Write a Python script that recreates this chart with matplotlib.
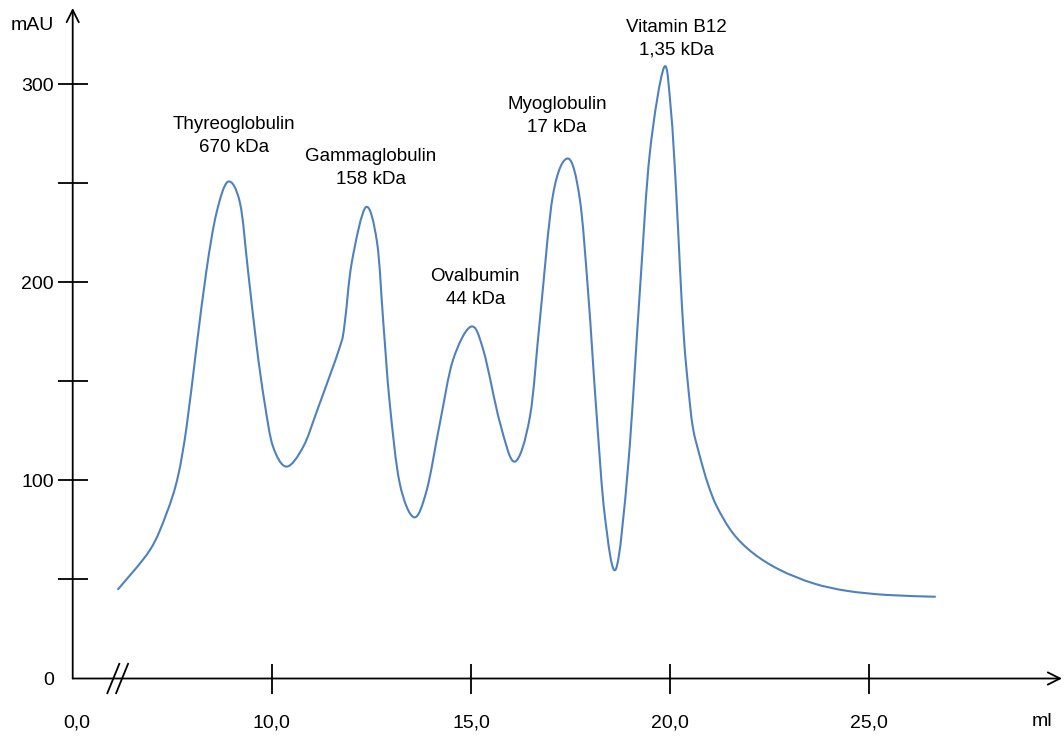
import numpy as np
import matplotlib.pyplot as plt
from matplotlib.path import Path
from matplotlib.patches import PathPatch

plt.rcParams['font.family'] = ['Liberation Sans', 'DejaVu Sans']

# Chromatogramm der Kalibrierproteine: Elutionsvolumen (ml) gegen Absorption (mAU)
volume_ml = [6.14, 6.94, 7.36, 7.64, 7.86, 8.11, 8.36, 8.61, 8.90, 9.20,
             9.40, 9.62, 9.82, 10.03, 10.37, 10.79, 11.16, 11.71, 11.83, 12.01,
             12.36, 12.64, 12.80, 12.96, 13.21, 13.57, 13.89, 14.22, 14.55, 15.00,
             15.31, 15.73, 16.10, 16.48, 16.73, 17.06, 17.44, 17.73, 17.94, 18.15,
             18.36, 18.64, 18.95, 19.24, 19.49, 19.85, 20.02, 20.15, 20.25, 20.35,
             20.45, 20.57, 20.75, 20.95, 21.18, 21.58, 22.09, 22.76, 23.59, 24.43,
             25.44, 26.65]
absorbance_mau = [45.1, 64.9, 83.6, 101.8, 127.2, 167.6, 206.3, 235.1, 250.9, 240.2,
                  206.3, 167.6, 139.1, 117.1, 107.0, 117.1, 136.6, 167.6, 179.5, 210.4,
                  238.0, 220.5, 179.5, 139.1, 98.7, 81.4, 95.2, 129.0, 160.9, 177.7,
                  165.9, 129.0, 109.5, 132.2, 181.1, 244.3, 262.6, 242.5, 195.5, 134.6,
                  82.3, 55.3, 108.4, 195.5, 265.2, 308.7, 287.1, 246.7, 206.3, 171.0,
                  148.2, 127.0, 112.0, 98.2, 86.6, 73.3, 63.2, 54.8, 48.1, 44.3,
                  42.2, 41.3]

peak_names = ["Thyreoglobulin", "Gammaglobulin", "Ovalbumin", "Myoglobulin", "Vitamin B12"]
peak_masses = ["670 kDa", "158 kDa", "44 kDa", "17 kDa", "1,35 kDa"]
label_pos = [(9.06, 274), (12.49, 258), (15.11, 197), (17.16, 284), (20.15, 323)]

x_ticks = [5.1, 10, 15, 20, 25]
x_tick_labels = ["0,0", "10,0", "15,0", "20,0", "25,0"]
y_ticks = [0, 50, 100, 150, 200, 250, 300]
y_tick_labels = ["0", "", "100", "", "200", "", "300"]

x_min, x_max = 5.0, 29.84
y_max = 338.6


def smooth_path(x, y):
    # geglättete Linie wie in Excel: Catmull-Rom-Segmente als kubische Bezierkurven
    pts = np.column_stack([x, y])
    n = len(pts)
    verts = [pts[0]]
    codes = [Path.MOVETO]
    for i in range(n - 1):
        p0 = pts[max(i - 1, 0)]
        p1 = pts[i]
        p2 = pts[i + 1]
        p3 = pts[min(i + 2, n - 1)]
        verts += [p1 + (p2 - p0) / 6, p2 - (p3 - p1) / 6, p2]
        codes += [Path.CURVE4] * 3
    return Path(verts, codes)


fig = plt.figure(figsize=(10.64, 7.37), dpi=100)
ax = fig.add_axes([72.7 / 1064, 58.5 / 737, (1062 - 72.7) / 1064, (729 - 58.5) / 737])
ax.set_xlim(x_min, x_max)
ax.set_ylim(0, y_max)
for side in ax.spines.values():
    side.set_visible(False)

ax.add_patch(PathPatch(smooth_path(volume_ml, absorbance_mau), fill=False,
                       edgecolor="#4F81BD", lw=1.5, capstyle="round",
                       joinstyle="round"))

for name, mass, (lx, ly) in zip(peak_names, peak_masses, label_pos):
    ax.text(lx, ly, f"{name}\n{mass}", ha="center", va="center", fontsize=13.5,
            linespacing=1.45)

# Achsen als Pfeile
arrow = dict(arrowstyle="->", lw=1.3, color="black", shrinkA=0, shrinkB=0,
             mutation_scale=22)
ax.annotate("", xy=(x_min, y_max), xytext=(x_min, 0), arrowprops=arrow,
            annotation_clip=False)
ax.annotate("", xy=(x_max, 0), xytext=(x_min, 0), arrowprops=arrow,
            annotation_clip=False)

# Achsenunterbrechung
for bx in (6.02, 6.24):
    ax.plot([bx - 0.15, bx + 0.15], [-7.4, 7.4], color="black", lw=1.3,
            clip_on=False)

ax.set_xticks(x_ticks, x_tick_labels, fontsize=14)
ax.set_yticks(y_ticks, y_tick_labels, fontsize=14)
ax.tick_params(direction="inout", length=22.3, width=1.3, color="black")
ax.tick_params(axis="x", pad=15)
ax.tick_params(axis="y", pad=2.3)
ax.xaxis.get_major_ticks()[0].tick1line.set_visible(False)
ax.yaxis.get_major_ticks()[0].tick1line.set_visible(False)

ax.text(32.5 / 1064, 711 / 737, "mAU", transform=fig.transFigure,
        ha="center", va="center", fontsize=14)
ax.text(1042 / 1064, 16 / 737, "ml", transform=fig.transFigure,
        ha="center", va="center", fontsize=14)

fig.savefig("out.png", dpi=100)
